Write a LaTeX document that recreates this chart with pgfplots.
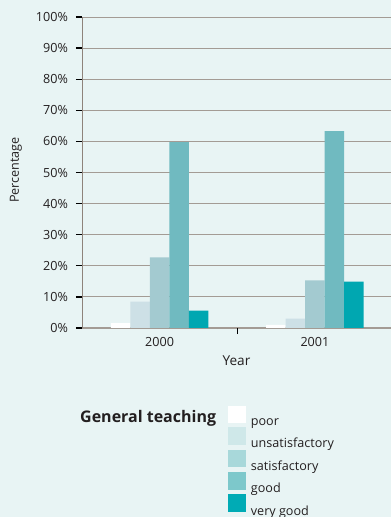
\documentclass[border=0pt]{standalone}
\usepackage{fontspec}
\setmainfont{Open Sans}
\usepackage{pgfplots}
\pgfplotsset{compat=1.18}

\definecolor{bg}{HTML}{E8F4F4}
\definecolor{gridc}{HTML}{A39B94}
\definecolor{axisc}{HTML}{8E837B}
\definecolor{txt}{HTML}{231F20}
% bar fills
\definecolor{cPoor}{HTML}{FFFFFF}
\definecolor{cUnsat}{HTML}{CDE0E6}
\definecolor{cSat}{HTML}{A3CAD0}
\definecolor{cGood}{HTML}{70BAC0}
\definecolor{cVgood}{HTML}{00A7B1}
% legend swatches
\definecolor{lPoor}{HTML}{FFFFFF}
\definecolor{lUnsat}{HTML}{CFE8E9}
\definecolor{lSat}{HTML}{A8D8DA}
\definecolor{lGood}{HTML}{7DC8CB}
\definecolor{lVgood}{HTML}{00ABB5}

\newcommand{\lblfont}{\fontsize{12.6bp}{15bp}\selectfont}

\begin{document}
\begin{tikzpicture}
\useasboundingbox (0,0) rectangle (391bp,517bp);
\fill[bg] (0,0) rectangle (391bp,517bp);

\begin{axis}[
  at={(82bp,189bp)}, anchor=south west,
  scale only axis, width=309bp, height=311bp,
  xmin=-0.5, xmax=1.49, ymin=0, ymax=100,
  ybar=0pt, bar width=19.5bp,
  axis x line*=bottom, axis y line*=left,
  x axis line style={draw=gridc, line width=1.4bp},
  y axis line style={draw=axisc, line width=1bp},
  ymajorgrids, major grid style={draw=gridc, line width=0.9bp},
  ytick={0,10,...,100},
  yticklabel={\pgfmathprintnumber{\tick}\%},
  /pgf/number format/assume math mode=true,
  ytick pos=left, xtick pos=bottom,
  tick align=outside, major tick length=6bp,
  y tick style={draw=black, line width=1.3bp},
  xtick={0,1}, xticklabels={2000,2001},
  x tick style={draw=none},
  extra x ticks={0.5}, extra x tick labels={},
  extra x tick style={x tick style={draw=black, line width=1.3bp}, xmajorgrids=false},
  tick label style={font=\lblfont, text=txt},
  yticklabel style={xshift=-4.5bp},
  label style={font=\lblfont, text=txt},
  xlabel={Year}, ylabel={Percentage},
  xlabel style={at={(axis description cs:0.5,-0.119)}, anchor=base, font=\fontsize{13.6bp}{16bp}\selectfont},
  ylabel style={at={(axis description cs:-0.2136,0.508)}, anchor=center},
  legend style={draw=none, fill=none, at={(0.4725,-0.2508)}, anchor=north west,
    inner sep=0pt, outer sep=0pt, row sep=0.2bp, column sep=6bp,
    font=\lblfont, text=txt,
    nodes={inner sep=0pt, outer sep=0pt}},
  legend cell align=left,
]
\addplot[fill=cPoor, draw=none, bar shift=-39bp, forget plot] coordinates {(0,1.6) (1,1.0)};
\addplot[fill=cUnsat, draw=none, bar shift=-19.5bp, forget plot] coordinates {(0,8.5) (1,3.0)};
\addplot[fill=cSat, draw=none, bar shift=0bp, forget plot] coordinates {(0,22.7) (1,15.3)};
\addplot[fill=cGood, draw=none, bar shift=19.5bp, forget plot] coordinates {(0,59.8) (1,63.3)};
\addplot[fill=cVgood, draw=none, bar shift=39bp, forget plot] coordinates {(0,5.6) (1,14.9)};

\addlegendimage{legend image code/.code={\fill[lPoor] (0,0) rectangle (16.5bp,16.5bp);}}
\addlegendimage{legend image code/.code={\fill[lUnsat] (0,0) rectangle (16.5bp,16.5bp);}}
\addlegendimage{legend image code/.code={\fill[lSat] (0,0) rectangle (16.5bp,16.5bp);}}
\addlegendimage{legend image code/.code={\fill[lGood] (0,0) rectangle (16.5bp,16.5bp);}}
\addlegendimage{legend image code/.code={\fill[lVgood] (0,0) rectangle (16.5bp,16.5bp);}}
\legend{poor,unsatisfactory,satisfactory,good,very good}
\end{axis}

\node[anchor=base west, inner sep=0pt, font=\fontsize{16bp}{19bp}\selectfont\bfseries, text=txt]
  at (80bp,94.5bp) {General teaching};
\end{tikzpicture}
\end{document}
